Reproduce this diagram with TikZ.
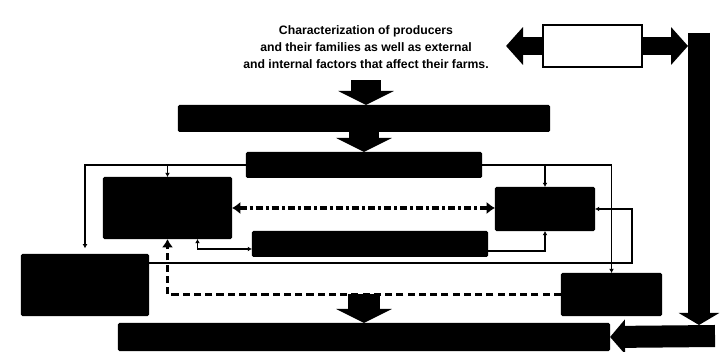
\documentclass[tikz,border=0pt]{standalone}
\usepackage{fontspec}
\setmainfont{Liberation Sans}
\usetikzlibrary{arrows,arrows.meta,shapes,positioning,calc}

\begin{document}
\begin{tikzpicture}[x=0.025cm,y=-0.025cm]

        \tikzstyle{every node}=[inner sep=0pt,outer sep=0pt]
        \tikzstyle{blk}=[fill=black,rounded corners=1pt]
        \tikzstyle{link}=[>={Latex[length=3pt,width=3.5pt]},line width=0.8pt]
        \tikzstyle{dd}=[>={Latex[length=6pt,width=9pt]},line width=2.3pt,dash pattern=on 5pt off 2.2pt on 2pt off 2.2pt]
        \tikzstyle{dsh}=[>={Latex[length=6pt,width=8pt]},line width=1.6pt,dash pattern=on 5pt off 3pt]
        \tikzstyle{fat}=[line width=0.75cm,-{Triangle[width=1.375cm,length=0.35cm]}]
        \tikzstyle{side}=[line width=0.45cm,-{Triangle[width=0.925cm,length=0.425cm]}]

        \useasboundingbox (0,0) rectangle (723,352);

        \node[minimum width=7cm,minimum height=1.65cm,align=center,
              font=\fontsize{8.7}{12.1}\selectfont\bfseries] (T) at (366,47)
              {Characterization of producers\\and their families as well as external\\and internal factors that affect their farms.};
        \node[draw,fill=white,line width=0.8pt,minimum width=2.475cm,minimum height=1.05cm] (SB) at (592.5,46) {};

        \node[blk,minimum width=9.3cm,minimum height=0.675cm] (B1) at (364,118.5) {};
        \node[blk,minimum width=5.9cm,minimum height=0.65cm] (B2) at (364,165) {};
        \node[blk,minimum width=3.225cm,minimum height=1.55cm] (B3) at (167.5,208) {};
        \node[blk,minimum width=2.5cm,minimum height=1.1cm] (B4) at (545,209) {};
        \node[blk,minimum width=5.9cm,minimum height=0.65cm] (B5) at (370,244) {};
        \node[blk,minimum width=3.2cm,minimum height=1.55cm] (B6) at (85,285) {};
        \node[blk,minimum width=2.525cm,minimum height=1.075cm] (B7) at (611.5,294.5) {};
        \node[blk,minimum width=12.3cm,minimum height=0.7cm] (B8) at (364,337) {};

        \coordinate (RT) at (688,46);
        \coordinate (R1) at (699,33);
        \coordinate (R2) at (699,325);
        \coordinate (RB) at (715,336);
        \coordinate (D) at (364,294);

        % block arrows
        \draw[fat] (T.south) -- (T.south |- B1.north);
        \draw[fat] (B1.south) -- (B2.north);
        \draw[fat,line width=0.8cm] (D) -- (B8.north);
        \draw[side] (SB.west) -- (SB.west -| T.east);
        \draw[side] (SB.east) -- (RT);
        \draw[line width=0.55cm,-{Triangle[width=1cm,length=0.3cm]}] (R1) -- (R2);
        \draw[line width=0.55cm,-{Triangle[width=0.85cm,length=0.375cm]}] (RB) -- (B8.east);

        % thin links
        \draw[link,->,shorten >=4pt] (B2.west) -| (B6.north);
        \draw[link,->] (B3.north |- B2.west) -- (B3.north);
        \draw[link,->] (B2.east) -| (B7.north);
        \draw[link,->] (B4.north |- B2.east) -- (B4.north);
        \draw[link,<->] ($(B3.south)+(30,0)$) |- ($(B5.west)+(0,5)$);
        \draw[link,->] ($(B5.east)+(0,7)$) -| (B4.south);
        \draw[link,->] ($(B6.east)+(0,-22)$) -- ++(483,0) |- (B4.east);

        % dashed links
        \draw[dd,<->] (B3.east) -- (B3.east -| B4.west);
        \draw[dsh,->] (B7.west) -| (B3.south);

\end{tikzpicture}
\end{document}
